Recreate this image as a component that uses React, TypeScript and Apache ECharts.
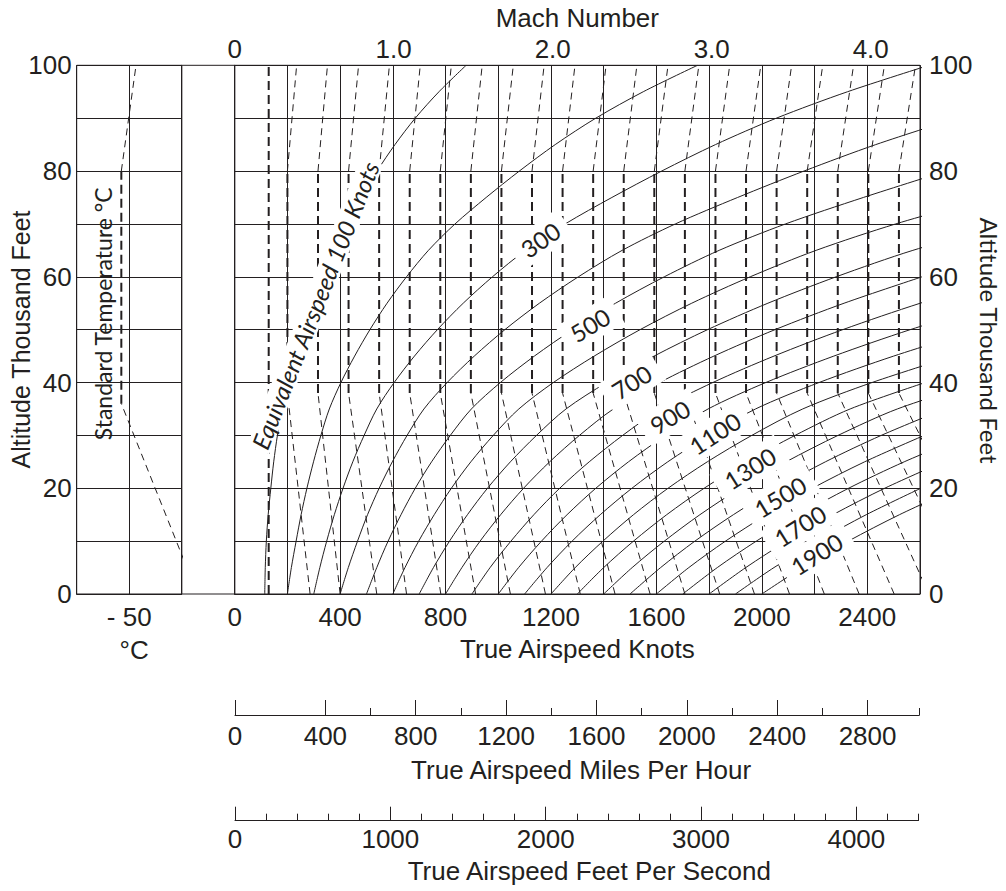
import React, { useEffect, useRef } from 'react';
import * as echarts from 'echarts';

// ---------- data ----------
const altitudesK = [0, 5, 10, 15, 20, 25, 30, 35, 40, 45, 50, 55, 60, 65, 70, 75, 80, 85, 90, 95, 100];

// True airspeed (knots) of each equivalent-airspeed curve at the altitudes above
const eas100 = [114, 116, 120, 127, 137, 148, 162, 179, 201, 227, 256, 289, 325, 368, 420, 478, 540, 608, 685, 775, 878];
const eas200 = [200, 215, 233, 252, 274, 299, 327, 359, 403, 455, 513, 578, 652, 735, 836, 954, 1080, 1216, 1370, 1550, 1756];
const eas300 = [300, 323, 349, 378, 411, 448, 491, 539, 605, 682, 769, 867, 978, 1103, 1254, 1431, 1620, 1824, 2055, 2325, 2634];
const eas400 = [400, 431, 466, 504, 548, 598, 654, 718, 806, 909, 1025, 1156, 1304, 1470, 1672, 1908, 2160, 2432, 2740];
const eas500 = [500, 539, 582, 631, 685, 747, 818, 898, 1008, 1137, 1282, 1445, 1630, 1838, 2090, 2385, 2700];
const eas600 = [600, 646, 698, 757, 822, 896, 981, 1078, 1209, 1364, 1538, 1734, 1956, 2206, 2508, 2862];
const eas700 = [700, 754, 815, 883, 959, 1046, 1145, 1257, 1411, 1591, 1794, 2023, 2282, 2573, 2926];
const eas800 = [800, 862, 931, 1009, 1096, 1195, 1308, 1437, 1612, 1818, 2050, 2312, 2608];
const eas900 = [900, 969, 1048, 1135, 1233, 1345, 1472, 1616, 1814, 2046, 2307, 2601, 2934];
const eas1000 = [1000, 1077, 1164, 1261, 1370, 1494, 1635, 1796, 2015, 2273, 2563, 2890];
const eas1100 = [1100, 1185, 1280, 1387, 1507, 1643, 1799, 1976, 2217, 2500, 2819];
const eas1200 = [1200, 1292, 1397, 1513, 1644, 1793, 1962, 2155, 2418, 2728];
const eas1300 = [1300, 1400, 1513, 1639, 1781, 1942, 2126, 2335, 2620];
const eas1400 = [1400, 1508, 1630, 1765, 1918, 2092, 2289, 2514, 2821];
const eas1500 = [1500, 1616, 1746, 1892, 2055, 2241, 2453, 2694];
const eas1600 = [1600, 1723, 1862, 2018, 2192, 2390, 2616];
const eas1700 = [1700, 1831, 1979, 2144, 2329, 2540, 2780];
const eas1800 = [1800, 1939, 2095, 2270, 2466, 2689];
const eas1900 = [1900, 2046, 2212, 2396, 2603];
const eas2000 = [2000, 2154, 2328, 2522, 2740];
const easCurves = [eas100, eas200, eas300, eas400, eas500, eas600, eas700, eas800, eas900, eas1000,
  eas1100, eas1200, eas1300, eas1400, eas1500, eas1600, eas1700, eas1800, eas1900, eas2000];

// Mach lines (Mach 0.4 ... 4.4): TAS knots at sea level, in the isothermal band, and at 100k ft
const machSeaLevelKts = [286, 400, 539, 652, 782, 914, 1046, 1179, 1311, 1443, 1576, 1708, 1840, 1972, 2105, 2237, 2369, 2502, 2634, 2766, 2899];
const machIsoKts = [200, 316, 432, 548, 664, 780, 896, 1012, 1128, 1244, 1360, 1476, 1592, 1708, 1824, 1940, 2056, 2172, 2288, 2404, 2520];
const machTopKts = [235, 352, 470, 587, 704, 822, 939, 1057, 1174, 1291, 1409, 1526, 1644, 1761, 1878, 1996, 2113, 2231, 2348, 2465, 2583];
const machLowLineKts = 129;
const machBreakAltK = [0, 38, 80, 100];

// Standard temperature
const stdTempC = [15, -57.5, -57.5, -43.5];
const stdTempAltK = [0, 36, 80, 100];

// Curve labels
const easLabelText = ['300', '500', '700', '900', '1100', '1300', '1500', '1700', '1900'];
const easLabelKts = [1160, 1348, 1506, 1651, 1822, 1955, 2070, 2145, 2208];
const easLabelAltK = [67.0, 50.9, 40.1, 33.5, 30.4, 23.8, 18.4, 12.9, 7.6];
const easLabelAngle = [35, 31, 32, 31, 33, 32, 31, 32, 32];

// Axis ticks
const knotsTicks = [0, 400, 800, 1200, 1600, 2000, 2400];
const mphMajor = [0, 400, 800, 1200, 1600, 2000, 2400, 2800];
const mphMinor = [600, 1000, 1400, 1800, 2200, 2600, 3029];
const mphScaleEnd = 3029;
const fpsMajor = [0, 1000, 2000, 3000, 4000];
const fpsScaleEnd = 4400;

// ---------- styles ----------
const INK = '#231f20';
const ARIAL = '"Liberation Sans", Arial, Helvetica, sans-serif';
const GILL = 'Lato, "Open Sans", sans-serif';
const FS = 26;

const txt = (extra: any = {}) => ({ color: INK, fontFamily: ARIAL, fontSize: FS, ...extra });

function seg(data: number[][], bold: boolean, xi = 0, yi = 0, clip = true) {
  return {
    type: 'line', xAxisIndex: xi, yAxisIndex: yi, data, symbol: 'none', silent: true, clip,
    lineStyle: { color: INK, width: bold ? 2 : 1, type: bold ? [9, 5] : [7, 5] },
    z: 2,
  };
}

function buildOption() {
  const top = 65.3, h = 528.7;
  const series: any[] = [];

  easCurves.forEach((arr) => {
    series.push({
      type: 'line', xAxisIndex: 0, yAxisIndex: 0, symbol: 'none', silent: true, smooth: 0.3,
      data: arr.map((v, i) => [v, altitudesK[i]]),
      lineStyle: { color: INK, width: 1 }, z: 3,
    });
  });

  machSeaLevelKts.forEach((sl, i) => {
    const iso = machIsoKts[i];
    const tp = machTopKts[i];
    series.push(seg([[sl, machBreakAltK[0]], [iso, machBreakAltK[1]]], false));
    series.push(seg([[iso, machBreakAltK[1]], [iso, machBreakAltK[2]]], true));
    series.push(seg([[iso, machBreakAltK[2]], [tp, machBreakAltK[3]]], false));
  });
  series.push(seg([[machLowLineKts, 0], [machLowLineKts, 100]], true));

  // standard temperature line
  series.push(seg([[stdTempC[0], stdTempAltK[0]], [stdTempC[1], stdTempAltK[1]]], false, 2, 1, false));
  series.push(seg([[stdTempC[1], stdTempAltK[1]], [stdTempC[2], stdTempAltK[2]]], true, 2, 1, false));
  series.push(seg([[stdTempC[2], stdTempAltK[2]], [stdTempC[3], stdTempAltK[3]]], false, 2, 1, false));

  const lblBase = {
    show: true, position: 'inside', color: INK, fontFamily: GILL, fontSize: 24,
    backgroundColor: '#ffffff', padding: [4, 10], opacity: 1,
    textBorderColor: '#ffffff', textBorderWidth: 0, textShadowBlur: 0,
    borderWidth: 0, shadowBlur: 0,
    formatter: (p: any) => p.data.name,
  };

  series.push({
    type: 'scatter', xAxisIndex: 0, yAxisIndex: 0, symbol: 'rect', symbolSize: 1, silent: true, z: 10,
    itemStyle: { color: '#ffffff', opacity: 1 },
    emphasis: { disabled: true },
    label: lblBase,
    data: easLabelText.map((t, i) => ({
      name: t, value: [easLabelKts[i], easLabelAltK[i]], label: { rotate: easLabelAngle[i] },
    })).concat([{
      name: 'Equivalent Airspeed 100 Knots', value: [305, 54.6],
      label: { rotate: 68.5, fontStyle: 'italic', fontSize: 24, padding: [0, 2] } as any,
    }]),
  });

  series.push({
    type: 'scatter', xAxisIndex: 2, yAxisIndex: 1, symbol: 'rect', symbolSize: 1, silent: true, z: 10,
    itemStyle: { color: '#ffffff', opacity: 1 },
    emphasis: { disabled: true },
    label: { ...lblBase, backgroundColor: 'transparent', padding: 0, fontSize: 23 },
    data: [{ name: 'Standard Temperature °C', value: [-75, 53], label: { rotate: 90 } }],
  });

  const hidden = { show: false };

  return {
    animation: false,
    backgroundColor: '#fff',
    grid: [
      { left: 234.7, top, width: 685.3, height: h, show: true, borderColor: INK, borderWidth: 1 },
      { left: 76.7, top, width: 105, height: h, show: true, borderColor: INK, borderWidth: 1 },
      { left: 181.7, top, width: 53, height: h, show: true, borderColor: INK, borderWidth: 1 },
      { left: 235, top: 700, width: 684.3, height: 15 },
      { left: 235, top: 700, width: 684.3, height: 15 },
      { left: 235, top: 806, width: 683.5, height: 14.7 },
      { left: 235, top: 806, width: 683.5, height: 14.7 },
    ],
    xAxis: [
      {
        gridIndex: 0, type: 'value', min: 0, max: 2600, interval: 200, position: 'bottom',
        axisLine: { show: true, lineStyle: { color: INK } }, axisTick: hidden,
        axisLabel: txt({ margin: 10, formatter: (v: number) => (knotsTicks.includes(v) ? String(v) : '') }),
        splitLine: { show: true, lineStyle: { color: INK, width: 1 } },
        name: 'True Airspeed Knots', nameLocation: 'middle', nameGap: 42, nameTextStyle: txt(),
      },
      {
        gridIndex: 0, type: 'value', min: 0, max: 4.31, interval: 1, position: 'top',
        axisLine: { show: true, lineStyle: { color: INK } }, axisTick: hidden, splitLine: hidden,
        axisLabel: txt({
          margin: 3,
          formatter: (v: number) => (v === 0 ? '0' : Math.abs(v - Math.round(v)) < 1e-6 ? v.toFixed(1) : ''),
        }),
        name: 'Mach Number', nameLocation: 'middle', nameGap: 33, nameTextStyle: txt(),
      },
      {
        gridIndex: 1, type: 'value', min: -100, max: 0, interval: 50, position: 'bottom',
        axisLine: { show: true, lineStyle: { color: INK } }, axisTick: hidden,
        axisLabel: txt({ margin: 10, formatter: (v: number) => (v === -50 ? '- 50' : '') }),
        splitLine: { show: true, lineStyle: { color: INK, width: 1 } },
        name: '°C', nameLocation: 'middle', nameGap: 43, nameTextStyle: txt({ padding: [0, 0, 0, 10] }),
      },
      { gridIndex: 2, type: 'value', min: 0, max: 1, show: false },
      {
        gridIndex: 3, type: 'value', min: 0, max: mphScaleEnd, position: 'bottom',
        axisLine: { show: true, lineStyle: { color: INK } },
        axisTick: { show: true, inside: true, length: 15, customValues: mphMajor, lineStyle: { color: INK } },
        axisLabel: txt({ margin: 8, customValues: mphMajor, formatter: (v: number) => String(v) }),
        splitLine: hidden,
        name: 'True Airspeed Miles Per Hour', nameLocation: 'middle', nameGap: 42,
        nameTextStyle: txt({ padding: [0, 0, 0, 8] }),
      },
      {
        gridIndex: 4, type: 'value', min: 0, max: mphScaleEnd, position: 'bottom',
        axisLine: hidden,
        axisTick: { show: true, inside: true, length: 7, customValues: mphMinor, lineStyle: { color: INK } },
        axisLabel: hidden, splitLine: hidden,
      },
      {
        gridIndex: 5, type: 'value', min: 0, max: fpsScaleEnd, position: 'bottom',
        axisLine: { show: true, lineStyle: { color: INK } },
        axisTick: { show: true, inside: true, length: 14, customValues: fpsMajor, lineStyle: { color: INK } },
        axisLabel: txt({ margin: 5, customValues: fpsMajor, formatter: (v: number) => String(v) }),
        splitLine: hidden,
        name: 'True Airspeed Feet Per Second', nameLocation: 'middle', nameGap: 37,
        nameTextStyle: txt({ padding: [0, 0, 0, 25] }),
      },
      {
        gridIndex: 6, type: 'value', min: 0, max: fpsScaleEnd, interval: 200, position: 'bottom',
        axisLine: hidden,
        axisTick: { show: true, inside: true, length: 7, lineStyle: { color: INK } },
        axisLabel: hidden, splitLine: hidden,
      },
    ],
    yAxis: [
      {
        gridIndex: 0, type: 'value', min: 0, max: 100, interval: 10, position: 'right',
        axisLine: { show: true, lineStyle: { color: INK } }, axisTick: hidden,
        axisLabel: txt({ margin: 9, formatter: (v: number) => (v % 20 === 0 ? String(v) : '') }),
        splitLine: { show: true, lineStyle: { color: INK, width: 1 } },
      },
      {
        gridIndex: 1, type: 'value', min: 0, max: 100, interval: 10, position: 'left',
        axisLine: { show: true, lineStyle: { color: INK } }, axisTick: hidden,
        axisLabel: txt({ margin: 5, formatter: (v: number) => (v % 20 === 0 ? String(v) : '') }),
        splitLine: { show: true, lineStyle: { color: INK, width: 1 } },
      },
      { gridIndex: 2, type: 'value', min: 0, max: 100, show: false },
      { gridIndex: 3, type: 'value', min: 0, max: 1, show: false },
      { gridIndex: 4, type: 'value', min: 0, max: 1, show: false },
      { gridIndex: 5, type: 'value', min: 0, max: 1, show: false },
      { gridIndex: 6, type: 'value', min: 0, max: 1, show: false },
    ],
    graphic: [
      {
        type: 'text', x: 21, y: 339.5, rotation: Math.PI / 2, silent: true,
        style: { text: 'Altitude Thousand Feet', fontFamily: ARIAL, fontSize: 25, fill: INK, align: 'center', verticalAlign: 'middle' },
      },
      {
        type: 'text', x: 989, y: 340.5, rotation: -Math.PI / 2, silent: true,
        style: { text: 'Altitude Thousand Feet', fontFamily: GILL, fontSize: 24, fill: INK, align: 'center', verticalAlign: 'middle' },
      },
    ],
    series,
  };
}

export default function App() {
  const ref = useRef<HTMLDivElement>(null);
  useEffect(() => {
    const chart = echarts.init(ref.current as HTMLDivElement, null, { renderer: 'svg' });
    chart.setOption(buildOption() as any);
    return () => chart.dispose();
  }, []);
  return (
    <div
      ref={ref}
      style={{ position: 'fixed', left: 0, top: 0, width: 1006, height: 891, background: '#fff' }}
    />
  );
}
